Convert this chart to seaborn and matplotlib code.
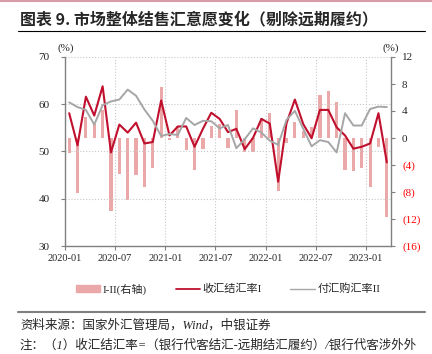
import matplotlib.pyplot as plt
import matplotlib.patches as mpatches
import matplotlib.lines as mlines
import seaborn as sns
import pandas as pd

# monthly data, 2020-01 .. 2023-03
months = pd.period_range("2020-01", "2023-03", freq="M").strftime("%Y-%m").tolist()

rate_i = [58.1, 51.3, 61.6, 57.6, 63.8, 49.8, 55.7, 54.0, 56.1, 51.7,
          52.0, 60.8, 53.4, 55.3, 55.3, 51.0, 54.8, 58.2, 56.9, 54.1,
          54.8, 50.5, 52.9, 56.9, 55.9, 43.6, 56.0, 61.0, 55.8, 52.8,
          58.8, 58.8, 55.1, 53.4, 50.6, 51.0, 51.7, 58.1, 47.7]

rate_ii = [60.4, 59.4, 58.8, 55.7, 59.8, 60.6, 61.0, 63.1, 61.8, 58.9,
           56.5, 53.3, 53.7, 53.5, 57.1, 55.6, 56.5, 56.4, 54.9, 55.6,
           50.7, 52.6, 54.9, 54.0, 52.3, 51.4, 56.7, 58.6, 54.8, 51.1,
           52.4, 52.0, 49.8, 58.1, 55.5, 55.5, 59.0, 59.5, 59.4]

diff = [-2.2, -8.1, 3.1, 2.1, 4.1, -10.8, -5.3, -9.2, -5.5, -7.3,
        -4.4, 7.5, -0.3, 1.8, -1.8, -4.7, -1.7, 1.8, 2.1, -1.5,
        4.1, -2.1, -2.0, 2.9, 3.7, -7.8, -0.7, 2.3, 1.0, 1.7,
        6.4, 7.0, 5.4, -4.7, -4.9, -4.4, -7.2, -1.4, -11.7]

tick_labels = ["2020-01", "2020-07", "2021-01", "2021-07", "2022-01", "2022-07", "2023-01"]
left_ticks = [30, 40, 50, 60, 70]
right_ticks = [-16, -12, -8, -4, 0, 4, 8, 12]

red = "#C0102E"
grey = "#A6A6A6"
pink = "#EBA8A8"
axis_grey = "#808080"

sns.set_theme(style="white")
plt.rcParams['font.family'] = ['Liberation Serif', 'Noto Sans CJK SC']

df = pd.DataFrame({"month": months, "x": range(len(months)),
                   "i": rate_i, "ii": rate_ii, "diff": diff})

W, H = 432, 354
fig = plt.figure(figsize=(W / 100, H / 100), dpi=100)
ax = fig.add_axes([65 / W, 1 - 246 / H, 326 / W, 189 / H])
ax2 = ax.twinx()

# categorical bars sit at 0..n-1, same as the line x values
sns.barplot(data=df, x="x", y="diff", width=0.38, color=pink,
            saturation=1, errorbar=None, linewidth=0, edgecolor=pink, ax=ax2)
sns.lineplot(data=df, x="x", y="i", color=red, lw=1.5, ax=ax)
sns.lineplot(data=df, x="x", y="ii", color=grey, lw=1.4, ax=ax)

ax.set_zorder(ax2.get_zorder() + 1)
ax.patch.set_visible(False)

ax.set_xlim(-0.5, len(months) - 0.5)
ax.set_ylim(30, 70)
ax2.set_ylim(-16, 12)

pos = [months.index(t) - 0.5 for t in tick_labels]
ax.set_xticks(pos)
ax.set_xticklabels(tick_labels, fontsize=7.5)
ax.set_yticks(left_ticks)
ax.set_yticklabels([str(v) for v in left_ticks], fontsize=8)
ax2.set_yticks(right_ticks)
ax2.set_yticklabels([str(v) if v >= 0 else f"({-v})" for v in right_ticks], fontsize=8)
for lab, v in zip(ax2.get_yticklabels(), right_ticks):
    if v < 0:
        lab.set_color("#FF0000")

ax.set_xlabel("")
ax.set_ylabel("")
ax2.set_xlabel("")
ax2.set_ylabel("")

ax.grid(True, linestyle=":", color="#C8C8C8", lw=0.8)
ax2.grid(False)

for a in (ax, ax2):
    for s in a.spines.values():
        s.set_visible(False)
ax.spines["left"].set_visible(True)
ax.spines["bottom"].set_visible(True)
ax2.spines["right"].set_visible(True)
for s in (ax.spines["left"], ax.spines["bottom"], ax2.spines["right"]):
    s.set_color(axis_grey)
    s.set_linewidth(1.0)

ax.tick_params(axis="x", direction="out", length=3, width=0.8, color=axis_grey, pad=3, bottom=True)
ax.tick_params(axis="y", direction="out", length=3, width=0.8, color=axis_grey, pad=8, left=True)
ax2.tick_params(axis="y", direction="out", length=3, width=0.8, color=axis_grey, pad=5, right=True)

fig.text(66 / W, 1 - 48 / H, "(%)", fontsize=8, ha="center", va="center")
fig.text(391 / W, 1 - 48 / H, "(%)", fontsize=8, ha="center", va="center")

# header and footer
fig.add_artist(mlines.Line2D([0, 1], [1 - 1 / H] * 2, color="#D99AA8", lw=1.5))
fig.text(20 / W, 1 - 19 / H, "图表 9. 市场整体结售汇意愿变化（剔除远期履约）",
         fontsize=11.5, fontweight="bold", family=["Noto Sans CJK SC"], va="center")
fig.add_artist(mlines.Line2D([18 / W, 425 / W], [1 - 31 / H] * 2, color="black", lw=0.8))

handles = [mpatches.Patch(color=pink),
           mlines.Line2D([], [], color=red, lw=1.3),
           mlines.Line2D([], [], color=grey, lw=1.0)]
labels = ["I-II(右轴)", "收汇结汇率I", "付汇购汇率II"]
fig.legend(handles, labels, loc="center", bbox_to_anchor=(228 / W, 1 - 289 / H), ncol=3,
           frameon=False, fontsize=8, handlelength=2.2, handleheight=0.5,
           handletextpad=0.2, columnspacing=2.6)

fig.add_artist(mlines.Line2D([18 / W, 425 / W], [1 - 312 / H] * 2, color="#7F7F7F", lw=1.5))
fig.text(20 / W, 1 - 325 / H, "资料来源：国家外汇管理局，Wind，中银证券",
         fontsize=9, va="center", style="italic")
fig.text(20 / W, 1 - 345 / H, "注：（1）收汇结汇率=（银行代客结汇-远期结汇履约）/银行代客涉外外",
         fontsize=9, va="center", style="italic")

fig.savefig("out.png", dpi=100)
